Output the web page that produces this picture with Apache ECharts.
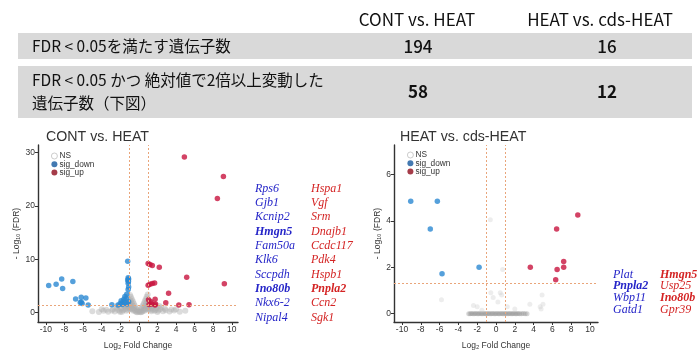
<!DOCTYPE html>
<html>
<head>
<meta charset="utf-8">
<script src="https://cdn.jsdelivr.net/npm/echarts@6/dist/echarts.min.js"></script>
<style>
  html, body { margin: 0; padding: 0; background: #fff; }
  #chart { width: 698px; height: 355px; }
</style>
</head>
<body>
<div id="chart"></div>
<script>
// ---- summary table ----
const tableColumns = ['CONT vs. HEAT', 'HEAT vs. cds-HEAT'];
const tableRowLabels = [
  ['FDR < 0.05を満たす遺伝子数'],
  ['FDR < 0.05 かつ 絶対値で2倍以上変動した', '遺伝子数（下図）']
];
const countsFdr = [194, 16];
const countsFdrFold = [58, 12];

// ---- volcano plots ----
const plotTitles = ['CONT vs. HEAT', 'HEAT vs. cds-HEAT'];
const xTickValues = [-10, -8, -6, -4, -2, 0, 2, 4, 6, 8, 10];
const yTickValuesA = [0, 10, 20, 30];
const yTickValuesB = [0, 2, 4, 6];
const foldThreshold = 1;
const fdrThreshold = 0.05;

// CONT vs. HEAT  [log2FC, -log10 FDR]
const upA = [
  [4.9, 29.2], [9.1, 25.5], [8.45, 21.4],
  [1.0, 9.2], [1.2, 9.0], [1.45, 8.8], [2.2, 8.5],
  [5.15, 6.6], [9.2, 5.4],
  [1.0, 5.1], [1.2, 5.3], [1.45, 5.45], [1.7, 5.55],
  [3.2, 3.6], [2.9, 1.8], [4.3, 1.4], [5.4, 1.45],
  [1.05, 2.4], [1.3, 2.0], [1.75, 2.5], [1.8, 1.6],
  [1.1, 1.5], [1.4, 1.6], [1.75, 1.4]
];
const downA = [
  [-9.7, 5.05], [-8.9, 5.3], [-8.3, 6.3], [-8.2, 4.5], [-7.1, 5.8],
  [-6.8, 2.55], [-6.2, 2.85], [-5.7, 2.7], [-6.3, 1.85], [-6.1, 1.7], [-6.2, 1.95],
  [-5.45, 1.4], [-2.9, 1.45], [-2.25, 1.4],
  [-1.2, 9.6], [-1.15, 6.5], [-1.1, 6.3], [-1.2, 6.1], [-1.12, 5.8], [-1.15, 5.5],
  [-1.1, 4.8], [-1.15, 4.3], [-1.3, 3.4], [-1.5, 3.0], [-1.35, 2.6], [-1.6, 2.5],
  [-1.9, 2.2], [-1.7, 2.0], [-1.5, 1.8], [-2.0, 1.7], [-1.8, 1.5], [-1.25, 1.6], [-1.1, 2.0]
];
const nsA = [
  [-0.95, 3.3], [-0.85, 2.9], [-0.75, 2.5], [-0.65, 2.1], [-0.55, 1.7], [-0.45, 1.3],
  [-0.35, 0.95], [-0.25, 0.65], [-0.15, 0.4], [-0.05, 0.15], [0.05, 0.12], [0.15, 0.38],
  [0.25, 0.7], [0.35, 1.0], [0.45, 1.35], [0.55, 1.75], [0.65, 2.15], [0.75, 2.55],
  [0.85, 2.95], [0.95, 3.35],
  [-0.9, 2.2], [-0.9, 1.4], [-0.8, 1.8], [-0.8, 0.9], [-0.7, 1.3], [-0.6, 0.8],
  [-0.5, 0.5], [-0.4, 0.3], [-0.3, 0.15], [-0.2, 0.05], [0.9, 2.1], [0.9, 1.3],
  [0.8, 1.7], [0.8, 0.8], [0.7, 1.2], [0.6, 0.7], [0.5, 0.45], [0.4, 0.25],
  [0.3, 0.1], [0.2, 0.03], [-0.95, 0.6], [0.95, 0.55],
  [-1.1, 2.4], [-1.2, 1.9], [-1.3, 1.3], [-1.4, 0.9], [-1.5, 0.6], [-1.7, 0.4],
  [-1.9, 0.7], [-2.1, 0.3], [-2.3, 0.5], [-2.6, 0.2], [-2.9, 0.35], [-3.3, 0.15],
  [-3.8, 0.3], [-4.3, 0.1], [-1.1, 1.0], [-1.2, 0.5], [-1.6, 1.1], [-2.0, 0.1],
  [1.1, 2.3], [1.2, 1.8], [1.3, 1.2], [1.4, 0.8], [1.5, 0.5], [1.7, 0.3],
  [1.9, 0.8], [2.1, 0.35], [2.3, 0.6], [2.6, 0.25], [2.9, 0.4], [3.3, 0.2],
  [3.8, 0.35], [4.4, 0.15], [1.1, 1.0], [1.2, 0.45], [1.6, 1.15], [2.0, 0.1],
  [5.0, 0.3], [-5.0, 0.25],
  [-1.0, 1.6], [-1.05, 0.8], [-1.35, 0.3], [-1.8, 0.15], [-2.4, 0.9], [-2.8, 0.6],
  [-3.5, 0.5], [-4.0, 0.6], [1.0, 1.7], [1.05, 0.7], [1.35, 0.25], [1.8, 0.5],
  [2.4, 0.95], [2.8, 0.7], [3.5, 0.55], [4.0, 0.6], [-0.6, 0.3], [0.6, 0.3],
  [-0.75, 0.6], [0.75, 0.55], [-1.5, 1.4], [1.5, 1.5], [-2.2, 1.2], [2.2, 1.2]
];

// HEAT vs. cds-HEAT
const upB = [
  [3.65, 2.0], [6.45, 3.65], [8.7, 4.25], [7.2, 2.25], [7.2, 2.0], [6.5, 1.9], [6.35, 1.46]
];
const downB = [
  [-9.07, 4.85], [-6.24, 4.85], [-6.99, 3.65], [-5.74, 1.72], [-1.8, 2.0]
];
const nsBandB = [
  [-2.9, 0], [-2.75, 0], [-2.6, 0.01], [-2.45, 0], [-2.3, 0], [-2.15, 0.01], [-2.0, 0],
  [-1.85, 0], [-1.7, 0.01], [-1.55, 0], [-1.4, 0], [-1.25, 0.01], [-1.1, 0], [-0.95, 0],
  [-0.8, 0.01], [-0.65, 0], [-0.5, 0], [-0.35, 0.01], [-0.2, 0], [-0.05, 0], [0.1, 0.01],
  [0.25, 0], [0.4, 0], [0.55, 0.01], [0.7, 0], [0.85, 0], [1.0, 0.01], [1.15, 0],
  [1.3, 0], [1.45, 0.01], [1.6, 0], [1.75, 0], [1.9, 0.01], [2.05, 0], [2.2, 0],
  [2.35, 0.01], [2.5, 0], [2.7, 0], [2.9, 0.01], [3.1, 0], [3.3, 0]
];
const nsScatterB = [
  [-0.6, 4.05], [0.7, 1.9], [-5.8, 0.6], [-0.55, 0.9], [0.45, 0.9], [0.6, 0.8],
  [-0.3, 0.7], [4.9, 0.8], [4.7, 0.3], [4.8, 0.2], [2.0, 0.2], [-2.4, 0.35],
  [-2.0, 0.3], [3.6, 0.4], [5.0, 0.4], [-1.5, 0.15], [1.2, 0.3], [0.2, 0.5]
];

// highlighted genes
const genesDownA = ['Rps6', 'Gjb1', 'Kcnip2', 'Hmgn5', 'Fam50a', 'Klk6', 'Sccpdh', 'Ino80b', 'Nkx6-2', 'Nipal4'];
const genesUpA = ['Hspa1', 'Vgf', 'Srm', 'Dnajb1', 'Ccdc117', 'Pdk4', 'Hspb1', 'Pnpla2', 'Ccn2', 'Sgk1'];
const genesDownB = ['Plat', 'Pnpla2', 'Wbp11', 'Gatd1'];
const genesUpB = ['Hmgn5', 'Usp25', 'Ino80b', 'Gpr39'];
const boldGenesA = ['Hmgn5', 'Ino80b', 'Pnpla2'];
const boldGenesB = ['Pnpla2', 'Hmgn5', 'Ino80b'];

// ---- styling ----
const COL_UP = '#c8143f';
const COL_DOWN = '#2a88d2';
const COL_UP_KEY = '#8e0b1c';
const COL_DOWN_KEY = '#14589e';
const COL_NS = 'rgba(175,175,175,0.55)';
const TXT_BLUE = '#2525c8';
const TXT_RED = '#d42424';
const AXIS = '#333';
const SANS = '"Liberation Sans", Arial, sans-serif';
const JP = '"Noto Sans CJK JP", "Noto Sans", sans-serif';

function txt(x, y, text, o) {
  o = o || {};
  return {
    type: 'text', x: x, y: y, silent: true,
    style: {
      text: text,
      fill: o.fill || '#222',
      fontSize: o.size || 12,
      fontFamily: o.family || SANS,
      fontWeight: o.weight || 'normal',
      fontStyle: o.style || 'normal',
      align: o.align || 'left', textAlign: o.align || 'left',
      verticalAlign: 'middle', textVerticalAlign: 'middle'
    }
  };
}

const graphics = [];
// table rows
graphics.push({ type: 'rect', shape: { x: 18, y: 33, width: 674, height: 26 }, style: { fill: '#d9d9d9' }, silent: true });
graphics.push({ type: 'rect', shape: { x: 18, y: 66, width: 674, height: 52 }, style: { fill: '#d9d9d9' }, silent: true });
const headX = [417, 600];
const valX = [418, 607];
tableColumns.forEach((c, i) => graphics.push(txt(headX[i], 20, c, { size: 17, align: 'center', family: JP, fill: '#111' })));
graphics.push(txt(32, 46, tableRowLabels[0][0], { size: 15.5, family: JP, fill: '#111' }));
graphics.push(txt(32, 80, tableRowLabels[1][0], { size: 15.5, family: JP, fill: '#111' }));
graphics.push(txt(32, 103, tableRowLabels[1][1], { size: 15.5, family: JP, fill: '#111' }));
countsFdr.forEach((v, i) => graphics.push(txt(valX[i], 47, String(v), { size: 17, align: 'center', family: JP, weight: 500, fill: '#111' })));
countsFdrFold.forEach((v, i) => graphics.push(txt(valX[i], 92, String(v), { size: 17, align: 'center', family: JP, weight: 'bold', fill: '#111' })));

// plot titles
graphics.push(txt(46, 137, plotTitles[0], { size: 14.2, fill: '#333' }));
graphics.push(txt(400, 137, plotTitles[1], { size: 14.2, fill: '#333' }));

// gene lists
function geneList(list, bold, x, y0, dy, color, size) {
  list.forEach((g, i) => graphics.push(txt(x, y0 + i * dy, g, {
    size: size, family: '"Liberation Serif", "Times New Roman", serif', style: 'italic',
    weight: bold.indexOf(g) >= 0 ? 'bold' : 'normal', fill: color
  })));
}
geneList(genesDownA, boldGenesA, 255, 188.5, 14.35, TXT_BLUE, 12);
geneList(genesUpA, boldGenesA, 311, 188.5, 14.35, TXT_RED, 12);
geneList(genesDownB, boldGenesB, 613, 274.5, 11.7, TXT_BLUE, 12);
geneList(genesUpB, boldGenesB, 660, 274.5, 11.7, TXT_RED, 12);

function xAxisFor(grid, min, max) {
  return {
    type: 'value', gridIndex: grid, min: min, max: max,
    name: 'Log\u2082 Fold Change', nameLocation: 'middle', nameGap: 19,
    nameTextStyle: { fontSize: 8.5, color: '#333', fontFamily: SANS },
    axisLine: { show: true, onZero: false, lineStyle: { color: AXIS, width: 1.4 } },
    axisTick: { show: true, length: 3, customValues: xTickValues, lineStyle: { color: AXIS } },
    axisLabel: { fontSize: 8.5, color: '#333', margin: 3, fontFamily: SANS, customValues: xTickValues },
    splitLine: { show: false }
  };
}
function yAxisFor(grid, min, max, ticks, gap) {
  return {
    type: 'value', gridIndex: grid, min: min, max: max,
    name: '- Log\u2081\u2080 (FDR)', nameLocation: 'middle', nameGap: gap, nameRotate: 90,
    nameTextStyle: { fontSize: 8.5, color: '#333', fontFamily: SANS },
    axisLine: { show: true, onZero: false, lineStyle: { color: AXIS, width: 1.4 } },
    axisTick: { show: true, length: 3, customValues: ticks, lineStyle: { color: AXIS } },
    axisLabel: { fontSize: 8.5, color: '#333', margin: 3, fontFamily: SANS, customValues: ticks },
    splitLine: { show: false }
  };
}

const thresholdLines = {
  silent: true, symbol: 'none', animation: false,
  label: { show: false },
  lineStyle: { type: [2, 2], color: '#e9a57a', width: 1 },
  data: [{ xAxis: -foldThreshold }, { xAxis: foldThreshold }, { yAxis: -Math.log10(fdrThreshold) }]
};

function scatter(name, data, idx, color, size) {
  return {
    name: name, type: 'scatter', xAxisIndex: idx, yAxisIndex: idx,
    data: data, symbolSize: size, itemStyle: { color: color }, silent: true
  };
}

function legendAt(left, top) {
  return {
    orient: 'vertical', left: left, top: top, itemWidth: 6, itemHeight: 6, itemGap: 0.3,
    selectedMode: false, padding: 0,
    textStyle: { fontSize: 8.3, color: '#333', lineHeight: 8, fontFamily: SANS, padding: [0, 0, 0, -3] },
    data: [
      { name: 'NS', icon: 'circle', itemStyle: { color: '#fff', borderColor: '#b0b0b0', borderWidth: 0.8 } },
      { name: 'sig_down', icon: 'circle', itemStyle: { color: COL_DOWN_KEY } },
      { name: 'sig_up', icon: 'circle', itemStyle: { color: COL_UP_KEY } }
    ]
  };
}

const ns0 = scatter('NS', nsA, 0, COL_NS, 6);
ns0.markLine = thresholdLines;
const ns1 = scatter('NS', nsBandB, 1, 'rgba(140,140,140,0.45)', 5);
ns1.markLine = thresholdLines;

const option = {
  animation: false,
  backgroundColor: '#fff',
  grid: [
    { left: 38, top: 145, width: 200, height: 186 },
    { left: 394, top: 145, width: 204, height: 186 }
  ],
  xAxis: [xAxisFor(0, -10.85, 10.67), xAxisFor(1, -10.85, 10.85)],
  yAxis: [yAxisFor(0, -1.79, 31.43, yTickValuesA, 15), yAxisFor(1, -0.36, 7.27, yTickValuesB, 9.5)],
  legend: [legendAt(51, 152), legendAt(407, 151)],
  graphic: { elements: graphics },
  series: [
    ns0,
    scatter('sig_down', downA, 0, COL_DOWN, 5.5),
    scatter('sig_up', upA, 0, COL_UP, 5.5),
    ns1,
    scatter('NS', nsScatterB, 1, 'rgba(200,200,200,0.4)', 5),
    scatter('sig_down', downB, 1, COL_DOWN, 5.5),
    scatter('sig_up', upB, 1, COL_UP, 5.5)
  ]
};

const chart = echarts.init(document.getElementById('chart'), null, { renderer: 'canvas' });
chart.setOption(option);
</script>
</body>
</html>
